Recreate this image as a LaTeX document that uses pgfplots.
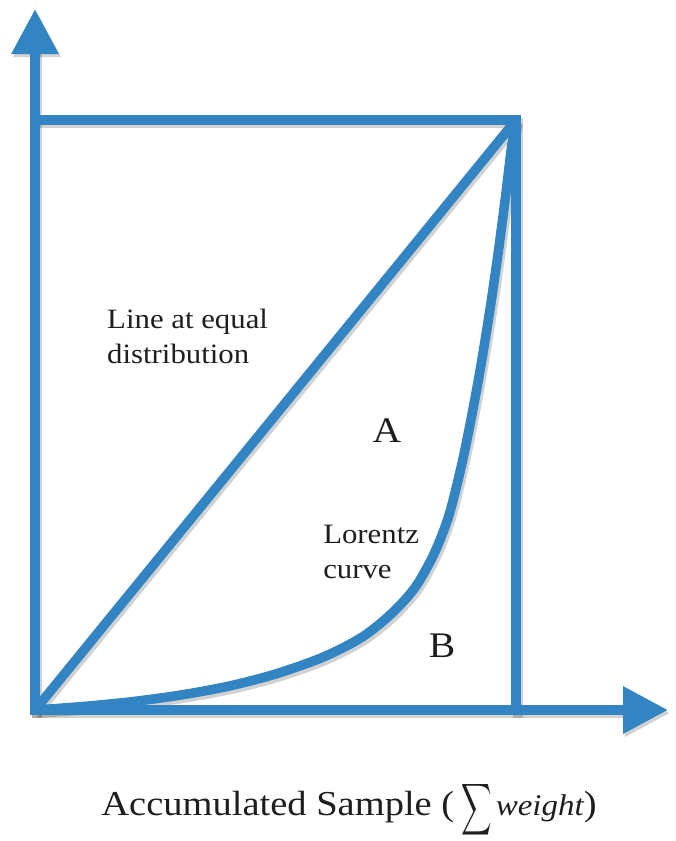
\RequirePackage{fix-cm}
\documentclass[border=0pt]{standalone}
\usepackage{exscale}
\usepackage{graphicx}
\usepackage{fontspec}
\setmainfont{Liberation Serif}[FakeStretch=1.1]
\usepackage{pgfplots}
\usepackage{pgfplotstable}
\pgfplotsset{compat=1.18}
\usetikzlibrary{arrows.meta}

\definecolor{lineblue}{RGB}{50,132,194}
\definecolor{txt}{RGB}{30,30,30}

% Lorentz curve (x = share of sample, y = share of weight)
\pgfplotstableread{
x      y
0.000  0.000
0.100  0.006
0.200  0.014
0.300  0.025
0.400  0.040
0.500  0.061
0.600  0.090
0.680  0.1236
0.740  0.1626
0.790  0.2076
0.830  0.2656
0.860  0.3286
0.885  0.4086
0.905  0.4866
0.925  0.5746
0.945  0.6746
0.962  0.7698
0.978  0.8690
0.990  0.9500
1.000  1.0000
}\lorenz

\begin{document}
\begin{tikzpicture}
\begin{axis}[
  x=481pt, y=590pt,
  xmin=-0.0728, xmax=1.3306, ymin=-0.222, ymax=1.2034,
  hide axis, clip=false,
  shadow/.style={black, opacity=0.18, line width=10pt, xshift=2pt, yshift=-3pt},
  blue line/.style={lineblue, line width=9.5pt},
  arrowhead/.style={-{Triangle[width=45pt,length=45pt]}},
]
% keep the page at the size of the reference
\addplot[draw=none] coordinates {(-0.0728,-0.222) (1.3306,1.2034)};

% shadows
\addplot[shadow, line cap=rect, arrowhead] coordinates {(0,0) (0,1.188)};
\addplot[shadow, line cap=rect, arrowhead] coordinates {(0,0) (1.316,0)};
\addplot[shadow, line cap=rect] coordinates {(0,1) (1,1) (1,0)};
\addplot[shadow] coordinates {(0,0) (1,1)};
\addplot[shadow, smooth, tension=0.5] table {\lorenz};

% lines
\addplot[blue line, line cap=rect, arrowhead] coordinates {(0,0) (0,1.188)};
\addplot[blue line, line cap=rect, arrowhead] coordinates {(0,0) (1.316,0)};
\addplot[blue line, line cap=round] coordinates {(0,0) (1,1)};
\addplot[blue line, smooth, tension=0.5] table {\lorenz};
\addplot[blue line, line cap=rect, line join=miter] coordinates {(0,1) (1,1) (1,0)};

% labels (multi-line nodes sit on the baseline of their last line)
\node[anchor=base west, align=left, inner sep=0pt, text=txt,
      font=\fontsize{28}{35}\selectfont] at (axis cs:0.1497,0.5881)
  {Line at equal\\distribution};
\node[anchor=base, inner sep=0pt, text=txt, font=\fontsize{36}{40}\selectfont]
  at (axis cs:0.7318,0.4542) {A};
\node[anchor=base west, align=left, inner sep=0pt, text=txt,
      font=\fontsize{28}{35}\selectfont] at (axis cs:0.5988,0.2237)
  {Lorentz\\curve};
\node[anchor=base, inner sep=0pt, text=txt, font=\fontsize{36}{40}\selectfont]
  at (axis cs:0.8462,0.0898) {B};
\node[anchor=base, inner sep=0pt, text=txt, font=\fontsize{35}{40}\selectfont]
  at (axis cs:0.6528,-0.178)
  {Accumulated Sample (\hspace{7pt}\raisebox{-7pt}{\scalebox{0.85}[1.45]{$\displaystyle\sum$}}\hspace{4pt}{\fontsize{30}{34}\selectfont\itshape weight})};
\end{axis}
\end{tikzpicture}
\end{document}
